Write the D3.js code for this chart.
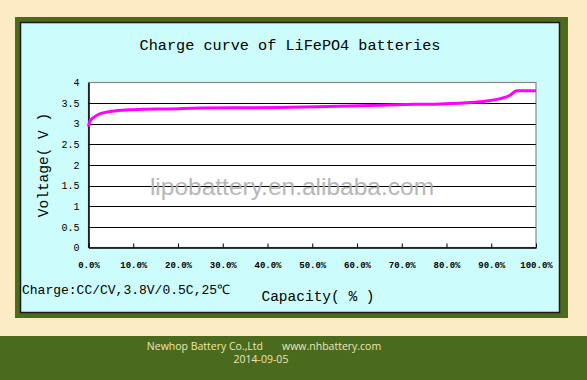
<!DOCTYPE html>
<html>
<head>
<meta charset="utf-8">
<script src="https://cdn.jsdelivr.net/npm/d3@7"></script>
<style>
  body { margin: 0; background: #fdebc3; }
  svg { display: block; }
</style>
</head>
<body>
<div id="chart"></div>
<script>
// charge curve
var capacity = [0, 0.3, 1.4, 2.3, 3.5, 6.5, 9, 12, 18, 25, 37, 45, 51, 63, 73, 78.6, 86, 89.5, 92, 94.2, 95.7, 100];
var voltage  = [2.93, 3.06, 3.17, 3.23, 3.27, 3.32, 3.34, 3.35, 3.36, 3.38, 3.39, 3.40, 3.41, 3.44, 3.47, 3.48, 3.52, 3.56, 3.61, 3.69, 3.80, 3.80];
var yTicks = [0, 0.5, 1, 1.5, 2, 2.5, 3, 3.5, 4];
var xTicks = [0, 10, 20, 30, 40, 50, 60, 70, 80, 90, 100];

var W = 587, H = 380;
var svg = d3.select("#chart").append("svg")
    .attr("width", W)
    .attr("height", H);

svg.append("rect").attr("width", W).attr("height", H).attr("fill", "#fdebc3");

// green frame + cyan panel
svg.append("rect")
    .attr("x", 15).attr("y", 17).attr("width", 553).attr("height", 301)
    .attr("fill", "#4d6b1e");
svg.append("rect")
    .attr("x", 20.5).attr("y", 22.5).attr("width", 539).attr("height", 290)
    .attr("fill", "#ccfcfc").attr("stroke", "#1a1a1a").attr("stroke-width", 1.5);

// footer band
svg.append("rect")
    .attr("x", 0).attr("y", 336).attr("width", W).attr("height", H - 336)
    .attr("fill", "#4a6a1e");
svg.append("text")
    .attr("x", 264).attr("y", 350)
    .attr("text-anchor", "middle")
    .attr("font-family", "Open Sans, sans-serif")
    .attr("font-size", 10.5)
    .attr("fill", "#efe6b8")
    .attr("xml:space", "preserve")
    .text("Newhop Battery Co.,Ltd       www.nhbattery.com");
svg.append("text")
    .attr("x", 261).attr("y", 363)
    .attr("text-anchor", "middle")
    .attr("font-family", "Open Sans, sans-serif")
    .attr("font-size", 10.5)
    .attr("fill", "#efe6b8")
    .text("2014-09-05");

var pLeft = 88.5, pRight = 536, pTop = 82.5, pBottom = 247.5;
var x = d3.scaleLinear().domain([0, 100]).range([pLeft, pRight]);
var y = d3.scaleLinear().domain([0, 4]).range([pBottom, pTop]);

var mono = "Liberation Mono, DejaVu Sans Mono, monospace";

// title
svg.append("text")
    .attr("x", 290).attr("y", 50)
    .attr("text-anchor", "middle")
    .attr("font-family", mono)
    .attr("font-size", 15.2)
    .attr("fill", "#000")
    .text("Charge curve of LiFePO4 batteries");

// plot area
svg.append("rect")
    .attr("x", pLeft).attr("y", pTop)
    .attr("width", pRight - pLeft).attr("height", pBottom - pTop)
    .attr("fill", "#fff").attr("stroke", "#888").attr("stroke-width", 1.2);

// gridlines
svg.append("g").selectAll("line")
    .data(yTicks.filter(function(d){ return d > 0 && d < 4; }))
    .enter().append("line")
    .attr("x1", pLeft).attr("x2", pRight)
    .attr("y1", function(d){ return Math.round(y(d)) + 0.5; })
    .attr("y2", function(d){ return Math.round(y(d)) + 0.5; })
    .attr("stroke", "#000").attr("stroke-width", 1.2);

// watermark
svg.append("text")
    .attr("x", 292).attr("y", 195)
    .attr("text-anchor", "middle")
    .attr("font-family", "Liberation Sans, Arial, sans-serif")
    .attr("font-size", 24.5)
    .attr("fill", "#b0b0b0")
    .attr("opacity", 0.9)
    .text("lipobattery.en.alibaba.com");

// y axis
var yAxis = d3.axisLeft(y).tickValues(yTicks).tickSize(0).tickPadding(9)
    .tickFormat(function(d){ return d3.format("")(d); });
var gy = svg.append("g").attr("transform", "translate(" + pLeft + ",0)").call(yAxis);
gy.select(".domain").attr("stroke", "#000").attr("stroke-width", 1.5);
gy.selectAll("text")
    .attr("font-family", mono)
    .attr("font-size", 10)
    .attr("fill", "#000");

// x axis, ticks point inward
var xAxis = d3.axisBottom(x).tickValues(xTicks).tickSizeInner(-4).tickSizeOuter(0).tickPadding(14)
    .tickFormat(function(d){ return d.toFixed(1) + "%"; });
var gx = svg.append("g").attr("transform", "translate(0," + pBottom + ")").call(xAxis);
gx.select(".domain").attr("stroke", "#000").attr("stroke-width", 1.5);
gx.selectAll(".tick line").attr("stroke", "#000").attr("stroke-width", 1);
gx.selectAll("text")
    .attr("font-family", mono)
    .attr("font-size", 9)
    .attr("font-weight", "bold")
    .attr("fill", "#000");

// curve
var line = d3.line()
    .x(function(d){ return x(d[0]); })
    .y(function(d){ return y(d[1]); })
    .curve(d3.curveMonotoneX);
svg.append("path")
    .datum(capacity.map(function(c, i){ return [c, voltage[i]]; }))
    .attr("d", line)
    .attr("fill", "none")
    .attr("stroke", "#ff00ff")
    .attr("stroke-width", 3);

// axis titles
svg.append("text")
    .attr("transform", "translate(48,165) rotate(-90)")
    .attr("text-anchor", "middle")
    .attr("font-family", mono)
    .attr("font-size", 14.5)
    .attr("fill", "#000")
    .text("Voltage( V )");

svg.append("text")
    .attr("x", 318).attr("y", 301)
    .attr("text-anchor", "middle")
    .attr("font-family", mono)
    .attr("font-size", 14.5)
    .attr("fill", "#000")
    .text("Capacity( % )");

svg.append("text")
    .attr("x", 22).attr("y", 294)
    .attr("font-family", mono)
    .attr("font-size", 13)
    .attr("fill", "#000")
    .text("Charge:CC/CV,3.8V/0.5C,25℃");
</script>
</body>
</html>
